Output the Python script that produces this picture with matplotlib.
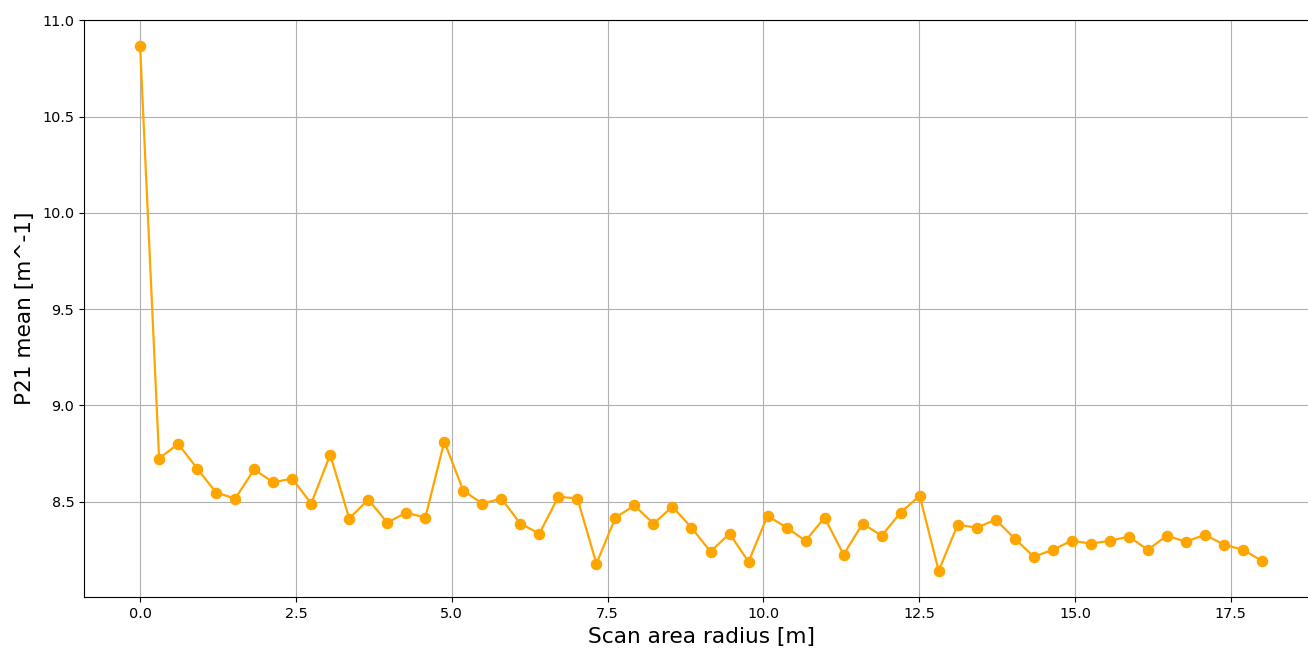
import matplotlib
matplotlib.use("Agg")
import matplotlib.pyplot as plt
import numpy as np

# scan radii: 60 evenly spaced radii from 0 to 18 m
radius = np.linspace(0.0, 18.0, 60)

p21_mean = [
    10.865, 8.724, 8.800, 8.672, 8.547, 8.516, 8.667, 8.600, 8.620, 8.490,
    8.744, 8.412, 8.511, 8.391, 8.443, 8.417, 8.812, 8.557, 8.490, 8.516,
    8.386, 8.334, 8.526, 8.516, 8.178, 8.417, 8.480, 8.386, 8.474, 8.365,
    8.240, 8.334, 8.188, 8.427, 8.365, 8.297, 8.417, 8.225, 8.386, 8.323,
    8.443, 8.531, 8.141, 8.380, 8.365, 8.406, 8.308, 8.214, 8.250, 8.297,
    8.282, 8.297, 8.318, 8.250, 8.323, 8.292, 8.328, 8.277, 8.250, 8.193,
]

fig = plt.figure(figsize=(13.08, 6.5), dpi=100)
# right spine falls just outside the canvas, as in the cropped original
ax = fig.add_axes([84 / 1308, 53 / 650, 1234 / 1308, 577 / 650])

ax.plot(radius, p21_mean, color="orange", marker="o", markersize=7.3, linewidth=1.6)
ax.grid(True)
ax.set_xlabel("Scan area radius [m]", fontsize=15.6, labelpad=4.5)
ax.set_ylabel("P21 mean [m^-1]", fontsize=15.6, labelpad=5)
ax.tick_params(labelsize=10.4)

fig.savefig("out.png", dpi=100)
